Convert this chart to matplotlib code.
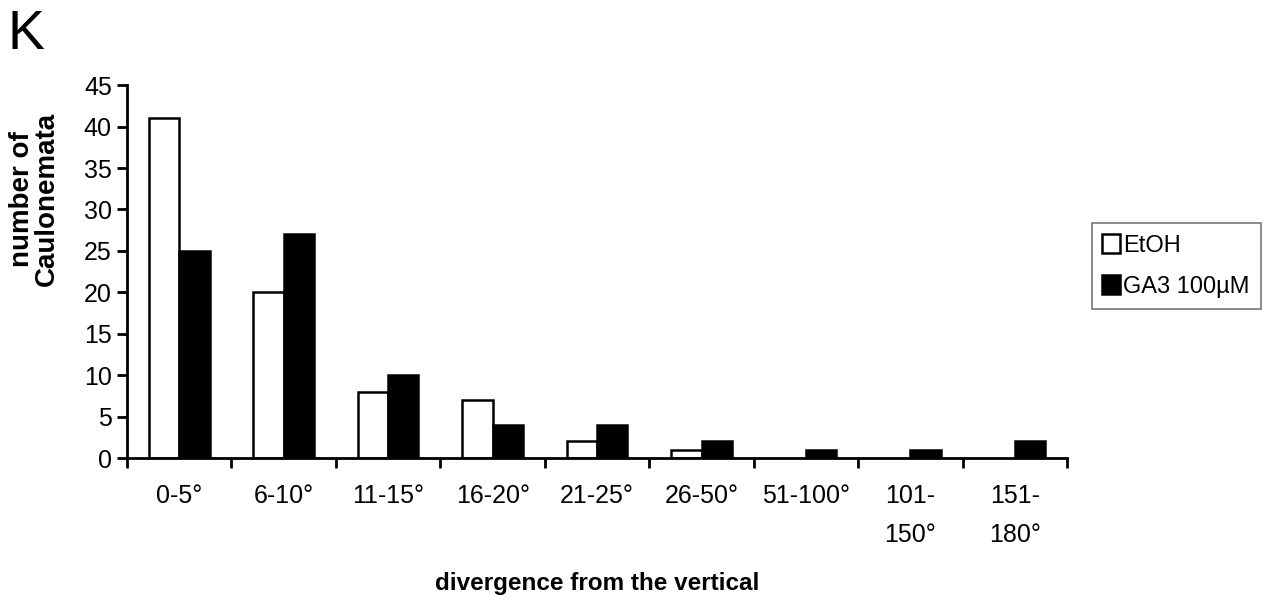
import numpy as np
import matplotlib
matplotlib.use("Agg")
import matplotlib.pyplot as plt

plt.rcParams['font.family'] = ['Liberation Sans', 'DejaVu Sans']

categories = ["0-5°", "6-10°", "11-15°", "16-20°", "21-25°", "26-50°", "51-100°", "101-\n150°", "151-\n180°"]
etoh = [41, 20, 8, 7, 2, 1, 0, 0, 0]
ga3 = [25, 27, 10, 4, 4, 2, 1, 1, 2]

fig = plt.figure(figsize=(12.78, 6.04), dpi=100)
ax = fig.add_axes([0.0994, 0.2417, 0.7356, 0.6173])

x = np.arange(len(categories))
w = 0.29
edge_e = ['black' if v > 0 else 'none' for v in etoh]
edge_g = ['black' if v > 0 else 'none' for v in ga3]
ax.bar(x - w / 2, etoh, w, color='white', edgecolor=edge_e, linewidth=1.8, label='EtOH')
ax.bar(x + w / 2, ga3, w, color='black', edgecolor=edge_g, linewidth=1.8, label='GA3 100µM')

ax.set_xlim(-0.5, len(categories) - 0.5)
ax.set_ylim(0, 45)
ax.set_yticks(range(0, 46, 5))
ax.set_xticks(np.arange(len(categories) + 1) - 0.5)
ax.set_xticklabels([])
ax.set_xticks(x, minor=True)
ax.set_xticklabels(categories, minor=True, fontsize=18, linespacing=1.75, va='top')
ax.tick_params(axis='x', which='minor', length=0, pad=19)
ax.tick_params(axis='x', which='major', length=7, width=2)
ax.tick_params(axis='y', length=7, width=2, labelsize=18, pad=4)

for s in ['top', 'right']:
    ax.spines[s].set_visible(False)
for s in ['left', 'bottom']:
    ax.spines[s].set_linewidth(2)

ax.set_ylabel("number of\nCaulonemata", fontsize=20, fontweight='bold', linespacing=0.95)
ax.yaxis.set_label_coords(-0.071, 0.694)
ax.set_xlabel("divergence from the vertical", fontsize=17.5, fontweight='bold', labelpad=18)

leg = ax.legend(loc='center left', bbox_to_anchor=(1.026, 0.515), fontsize=17, frameon=True,
                fancybox=False, edgecolor='#555555', handlelength=0.75, handleheight=0.85,
                handletextpad=0.15, borderpad=0.45, labelspacing=0.8, borderaxespad=0)
leg.get_frame().set_linewidth(1.2)

fig.text(0.006, 0.985, "K", fontsize=40, va='top', ha='left')

fig.savefig("out.png", dpi=100)
